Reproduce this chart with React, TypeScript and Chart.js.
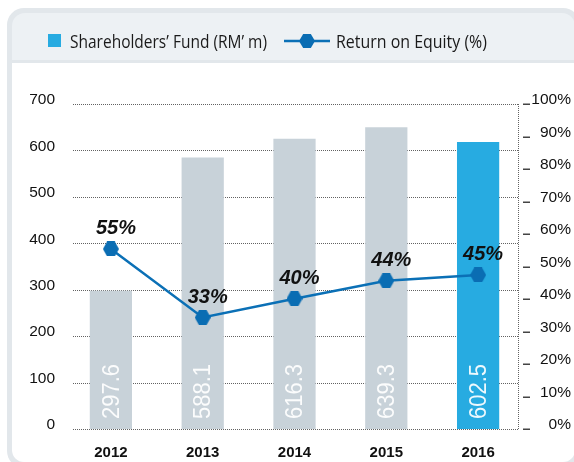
import React, { useEffect, useRef } from "react";
import { Chart, registerables } from "chart.js";

Chart.register(...registerables);

// ---- data ----
const years = ["2012", "2013", "2014", "2015", "2016"];
const shareholdersFund = [297.6, 585, 625, 650, 618];
const shareholdersFundLabels = ["297.6", "588.1", "616.3", "639.3", "602.5"];
const returnOnEquity = [55.4, 34.3, 40.1, 45.6, 47.4];
const returnOnEquityLabels = ["55%", "33%", "40%", "44%", "45%"];
const leftTickValues = [0, 100, 200, 300, 400, 500, 600, 700];
const rightTickValues = [0, 10, 20, 30, 40, 50, 60, 70, 80, 90, 100];
const legendLabels = ["Shareholders\u2019 Fund (RM\u2019 m)", "Return on Equity (%)"];

// ---- styles ----
const GREY_BAR = "#c8d2d9";
const BLUE_BAR = "#27abe1";
const LINE_BLUE = "#0b70b6";
const MARKER_BLUE = "#0a6db3";
const barColors = years.map((_, i) => (i === years.length - 1 ? BLUE_BAR : GREY_BAR));

function hexPath(ctx: CanvasRenderingContext2D, cx: number, cy: number, w: number, h: number) {
  const hw = w / 2;
  const hh = h / 2;
  const q = w * 0.26;
  ctx.beginPath();
  ctx.moveTo(cx - hw, cy);
  ctx.lineTo(cx - hw + q, cy - hh);
  ctx.lineTo(cx + hw - q, cy - hh);
  ctx.lineTo(cx + hw, cy);
  ctx.lineTo(cx + hw - q, cy + hh);
  ctx.lineTo(cx - hw + q, cy + hh);
  ctx.closePath();
}

function makeHexCanvas(): HTMLCanvasElement {
  const c = document.createElement("canvas");
  c.width = 16;
  c.height = 15;
  const ctx = c.getContext("2d")!;
  ctx.fillStyle = MARKER_BLUE;
  hexPath(ctx, 8, 7.5, 16, 15);
  ctx.fill();
  return c;
}

function roundRectPath(
  ctx: CanvasRenderingContext2D,
  x: number,
  y: number,
  w: number,
  h: number,
  r: [number, number, number, number]
) {
  const [tl, tr, br, bl] = r;
  ctx.beginPath();
  ctx.moveTo(x + tl, y);
  ctx.lineTo(x + w - tr, y);
  ctx.arcTo(x + w, y, x + w, y + tr, tr);
  ctx.lineTo(x + w, y + h - br);
  ctx.arcTo(x + w, y + h, x + w - br, y + h, br);
  ctx.lineTo(x + bl, y + h);
  ctx.arcTo(x, y + h, x, y + h - bl, bl);
  ctx.lineTo(x, y + tl);
  ctx.arcTo(x, y, x + tl, y, tl);
  ctx.closePath();
}

function fitText(ctx: CanvasRenderingContext2D, text: string, x: number, y: number, targetW: number) {
  const w = ctx.measureText(text).width;
  const s = targetW / w;
  ctx.save();
  ctx.translate(x, y);
  ctx.scale(s, 1);
  ctx.fillText(text, 0, 0);
  ctx.restore();
}

const framePlugin = {
  id: "frame",
  beforeDraw(chart: any) {
    const ctx: CanvasRenderingContext2D = chart.ctx;
    ctx.save();
    ctx.fillStyle = "#ffffff";
    ctx.fillRect(0, 0, chart.width, chart.height);
    ctx.fillStyle = "#e2e7eb";
    roundRectPath(ctx, 7, 8, 573, 460, [17, 17, 17, 17]);
    ctx.fill();
    ctx.fillStyle = "#edf1f4";
    roundRectPath(ctx, 12, 13, 563, 47, [13, 13, 0, 0]);
    ctx.fill();
    ctx.fillStyle = "#ffffff";
    roundRectPath(ctx, 12, 63, 563, 399, [0, 0, 12, 12]);
    ctx.fill();
    ctx.restore();
  },
};

const gridPlugin = {
  id: "dottedGrid",
  beforeDatasetsDraw(chart: any) {
    const ctx: CanvasRenderingContext2D = chart.ctx;
    const y = chart.scales.y;
    const y1 = chart.scales.y1;
    ctx.save();
    ctx.strokeStyle = "rgba(70,70,70,0.85)";
    ctx.lineWidth = 1;
    ctx.setLineDash([1, 1]);
    leftTickValues.forEach((v) => {
      const py = Math.round(y.getPixelForValue(v)) + 0.5;
      ctx.beginPath();
      ctx.moveTo(73, py);
      ctx.lineTo(518, py);
      ctx.stroke();
    });
    ctx.beginPath();
    ctx.moveTo(518.5, Math.round(y.getPixelForValue(700)));
    ctx.lineTo(518.5, Math.round(y.getPixelForValue(0)));
    ctx.stroke();
    ctx.setLineDash([]);
    ctx.fillStyle = "#444";
    rightTickValues.forEach((v) => {
      const py = Math.round(y1.getPixelForValue(v));
      ctx.fillRect(523, py - 0.5, 7, 1.5);
    });
    ctx.restore();
  },
};

const labelPlugin = {
  id: "valueLabels",
  afterDatasetsDraw(chart: any) {
    const ctx: CanvasRenderingContext2D = chart.ctx;
    ctx.save();
    const barMeta = chart.getDatasetMeta(0);
    ctx.fillStyle = "rgba(255,255,255,0.92)";
    ctx.font = '24px "Liberation Sans"';
    ctx.textAlign = "left";
    ctx.textBaseline = "middle";
    barMeta.data.forEach((bar: any, i: number) => {
      ctx.save();
      ctx.translate(bar.x + 1, bar.base - 10);
      ctx.rotate(-Math.PI / 2);
      fitText(ctx, shareholdersFundLabels[i], 0, 0, 55);
      ctx.restore();
    });
    const lineMeta = chart.getDatasetMeta(1);
    ctx.fillStyle = "#111";
    ctx.font = 'italic bold 20px "Liberation Sans"';
    ctx.textAlign = "center";
    ctx.textBaseline = "middle";
    lineMeta.data.forEach((pt: any, i: number) => {
      ctx.fillText(returnOnEquityLabels[i], pt.x + 5, pt.y - 20);
    });
    ctx.restore();
  },
};

const legendPlugin = {
  id: "customLegend",
  afterDraw(chart: any) {
    const ctx: CanvasRenderingContext2D = chart.ctx;
    ctx.save();
    ctx.fillStyle = BLUE_BAR;
    ctx.fillRect(48, 34, 13, 13);
    ctx.fillStyle = "#1a1a1a";
    ctx.font = '18.5px "Open Sans"';
    ctx.textBaseline = "alphabetic";
    ctx.textAlign = "left";
    fitText(ctx, legendLabels[0], 70, 48, 197);
    ctx.strokeStyle = LINE_BLUE;
    ctx.lineWidth = 2.5;
    ctx.beginPath();
    ctx.moveTo(284, 41);
    ctx.lineTo(330, 41);
    ctx.stroke();
    ctx.fillStyle = MARKER_BLUE;
    hexPath(ctx, 307, 41, 16, 14);
    ctx.fill();
    ctx.fillStyle = "#1a1a1a";
    fitText(ctx, legendLabels[1], 336, 48, 151);
    ctx.restore();
  },
};

export default function App() {
  const ref = useRef<HTMLCanvasElement | null>(null);

  useEffect(() => {
    document.body.style.margin = "0";
    const canvas = ref.current;
    if (!canvas) return;
    const hex = makeHexCanvas();
    const chart = new Chart(canvas, {
      type: "bar",
      data: {
        labels: years,
        datasets: [
          {
            type: "bar",
            label: legendLabels[0],
            data: shareholdersFund,
            backgroundColor: barColors,
            borderWidth: 0,
            barPercentage: 0.46,
            categoryPercentage: 1,
            yAxisID: "y",
            order: 2,
          },
          {
            type: "line",
            label: legendLabels[1],
            data: returnOnEquity,
            borderColor: LINE_BLUE,
            borderWidth: 2.5,
            pointStyle: hex as any,
            pointRadius: 8,
            pointBackgroundColor: MARKER_BLUE,
            tension: 0,
            yAxisID: "y1",
            order: 1,
          } as any,
        ],
      },
      options: {
        animation: false,
        responsive: false,
        devicePixelRatio: 1,
        layout: { padding: { left: 0, right: 3, top: 104, bottom: 0 } },
        plugins: {
          legend: { display: false },
          tooltip: { enabled: false },
        },
        scales: {
          x: {
            grid: { display: false },
            border: { display: false },
            ticks: {
              color: "#111",
              font: { family: "Liberation Sans", size: 15, weight: "bold" },
              padding: 7,
            },
            afterFit: (s: any) => {
              s.height = 33;
            },
          },
          y: {
            position: "left",
            min: 0,
            max: 700,
            grid: { display: false },
            border: { display: false },
            afterBuildTicks: (s: any) => {
              s.ticks = leftTickValues.map((v) => ({ value: v }));
            },
            ticks: {
              color: "#111",
              font: { family: "Liberation Sans", size: 15.5 },
              padding: 2,
              labelOffset: -4,
            },
            afterFit: (s: any) => {
              s.width = 65;
            },
          },
          y1: {
            position: "right",
            min: 0,
            max: 100,
            grid: { display: false },
            border: { display: false },
            afterBuildTicks: (s: any) => {
              s.ticks = rightTickValues.map((v) => ({ value: v }));
            },
            ticks: {
              color: "#111",
              font: { family: "Liberation Sans", size: 15.5 },
              crossAlign: "far",
              labelOffset: -4,
              callback: (v: any) => v + "%",
            },
            afterFit: (s: any) => {
              s.width = 47;
            },
          },
        },
      },
      plugins: [framePlugin, gridPlugin, labelPlugin, legendPlugin],
    } as any);
    return () => chart.destroy();
  }, []);

  return (
    <div style={{ width: 574, height: 462 }}>
      <canvas ref={ref} width={574} height={462} style={{ display: "block" }} />
    </div>
  );
}
